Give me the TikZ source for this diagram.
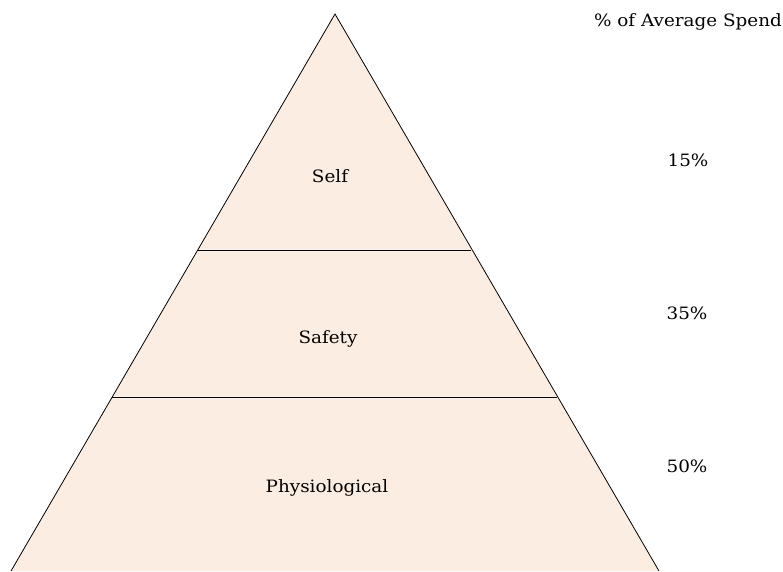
\documentclass[tikz,border=0pt]{standalone}
\usepackage{fontspec}
\setmainfont[FakeStretch=1.08]{DejaVu Serif}
\definecolor{peach}{RGB}{252,237,226}
\begin{document}
\begin{tikzpicture}[x=1pt,y=-1pt,
  lbl/.style={font=\fontsize{17}{19}\selectfont, inner sep=0pt, anchor=center},
  edge/.style={draw=black, line width=0.8pt}]
\useasboundingbox (0,0) rectangle (783,571);
\coordinate (apex) at (335,14);
\coordinate (bl) at (11,571);
\coordinate (br) at (659,571);
\coordinate (l1) at (198,250);
\coordinate (r1) at (471,250);
\coordinate (l2) at (112,397);
\coordinate (r2) at (557,397);
\fill[peach] (apex) -- (br) -- (bl) -- cycle;
\draw[edge] (bl) -- (apex) -- (br);
\draw[edge] (l1) -- (r1);
\draw[edge] (l2) -- (r2);
\node[lbl] (self) at (330,176) {Self};
\node[lbl] (safety) at (328,339) {Safety};
\node[lbl] (phys) at (327,488) {Physiological};
\node[lbl] (p15) at (688,160) {15\%};
\node[lbl] (p35) at (687,313) {35\%};
\node[lbl] (p50) at (687,466) {50\%};
\node[lbl] (head) at (688,22) {\% of Average Spend};
\end{tikzpicture}
\end{document}
